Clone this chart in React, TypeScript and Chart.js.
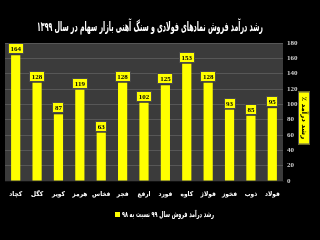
import React, { useEffect, useRef } from 'react';
import { Chart, registerables } from 'chart.js';

Chart.register(...registerables);

const categories = ['کچاد', 'کگل', 'کویر', 'هرمز', 'فخاس', 'فجر', 'ارفع', 'فورد', 'کاوه', 'فولاژ', 'فخوز', 'ذوب', 'فولاد'];
const growthValues = [164, 128, 87, 119, 63, 128, 102, 125, 153, 128, 93, 85, 95];
const yMin = 0;
const yMax = 180;
const yStep = 20;
const chartTitle = 'رشد درآمد فروش نمادهای فولادی و سنگ آهنی بازار سهام در سال ۱۳۹۹';
const legendLabel = 'رشد درآمد فروش سال ۹۹ نسبت به ۹۸';
const axisTitle = 'رشد درآمد ٪';

const AR_FONT = '"DejaVu Sans", "Noto Sans", sans-serif';
const AR_COND = '"DejaVu Sans Condensed", "DejaVu Sans", sans-serif';
const YELLOW = '#ffff00';

const backgroundPlugin = {
  id: 'bgPlot',
  beforeDraw(chart: any) {
    const { ctx, chartArea } = chart;
    ctx.save();
    ctx.fillStyle = '#000000';
    ctx.fillRect(0, 0, chart.width, chart.height);
    ctx.fillStyle = '#3b3b3b';
    ctx.fillRect(chartArea.left, chartArea.top, chartArea.right - chartArea.left, chartArea.bottom - chartArea.top);
    ctx.restore();
  },
};

const titlePlugin = {
  id: 'customTitle',
  afterDraw(chart: any) {
    const { ctx } = chart;
    ctx.save();
    ctx.font = `bold 13px ${AR_FONT}`;
    ctx.fillStyle = '#ffffff';
    ctx.textAlign = 'center';
    ctx.textBaseline = 'middle';
    (ctx as any).direction = 'rtl';
    ctx.fillText(chartTitle, 150, 28, 226);
    ctx.restore();
  },
};

const legendPlugin = {
  id: 'customLegend',
  afterDraw(chart: any) {
    const { ctx } = chart;
    const ds = chart.data.datasets[0];
    const y = 215;
    ctx.save();
    ctx.fillStyle = ds.backgroundColor;
    ctx.fillRect(115, y - 3, 5, 5);
    ctx.font = `bold 8px ${AR_COND}`;
    ctx.fillStyle = '#ffffff';
    ctx.textAlign = 'left';
    ctx.textBaseline = 'middle';
    ctx.fillText(ds.label, 122, y, 92);
    ctx.restore();
  },
};

const axisTitlePlugin = {
  id: 'axisTitleBox',
  afterDraw(chart: any) {
    const { ctx, chartArea } = chart;
    const cx = chart.width - 16;
    const cy = (chartArea.top + chartArea.bottom) / 2 + 6;
    const w = 12;
    const h = 53;
    ctx.save();
    ctx.fillStyle = YELLOW;
    ctx.fillRect(cx - w / 2, cy - h / 2, w, h);
    ctx.strokeStyle = '#555555';
    ctx.lineWidth = 1;
    ctx.strokeRect(cx - w / 2 + 0.5, cy - h / 2 + 0.5, w - 1, h - 1);
    ctx.translate(cx, cy);
    ctx.rotate(Math.PI / 2);
    ctx.font = `bold 7px ${AR_FONT}`;
    ctx.fillStyle = '#000000';
    ctx.textAlign = 'center';
    ctx.textBaseline = 'middle';
    (ctx as any).direction = 'rtl';
    ctx.fillText(axisTitle, 0, 0, h - 6);
    ctx.restore();
  },
};

const valueLabelPlugin = {
  id: 'valueLabels',
  afterDatasetsDraw(chart: any) {
    const { ctx } = chart;
    const meta = chart.getDatasetMeta(0);
    const data = chart.data.datasets[0].data as number[];
    ctx.save();
    ctx.font = 'bold 7px "Liberation Serif", serif';
    ctx.textAlign = 'center';
    ctx.textBaseline = 'middle';
    meta.data.forEach((bar: any, i: number) => {
      const text = String(data[i]);
      const w = Math.ceil(ctx.measureText(text).width) + 3;
      const h = 9;
      const x = Math.round(bar.x - w / 2);
      const y = Math.round(bar.y - h - 2);
      ctx.fillStyle = YELLOW;
      ctx.fillRect(x, y, w, h);
      ctx.strokeStyle = '#4a4a4a';
      ctx.lineWidth = 1;
      ctx.strokeRect(x - 0.5, y - 0.5, w + 1, h + 1);
      ctx.fillStyle = '#000000';
      ctx.fillText(text, bar.x, y + h / 2 + 0.5);
    });
    ctx.restore();
  },
};

export default function App() {
  const canvasRef = useRef<HTMLCanvasElement | null>(null);

  useEffect(() => {
    document.body.style.margin = '0';
    document.body.style.background = '#000000';
    const canvas = canvasRef.current;
    if (!canvas) return;
    const chart = new Chart(canvas, {
      type: 'bar',
      data: {
        labels: categories,
        datasets: [
          {
            label: legendLabel,
            data: growthValues,
            backgroundColor: YELLOW,
            borderWidth: 0,
            barPercentage: 0.43,
            categoryPercentage: 1,
          },
        ],
      },
      options: {
        responsive: false,
        animation: false,
        devicePixelRatio: 1,
        layout: { padding: { top: 43, left: 5, right: 0, bottom: 39 } },
        plugins: {
          legend: { display: false },
          title: { display: false },
          tooltip: { enabled: false },
        },
        scales: {
          x: {
            grid: { display: false, drawTicks: false },
            border: { display: true, color: '#111111', width: 1 },
            ticks: {
              color: '#ffffff',
              padding: 9,
              maxRotation: 0,
              autoSkip: false,
              font: { family: AR_COND, size: 6.5, weight: 'bold' },
            },
            afterFit(scale: any) {
              scale.height = 20;
            },
          },
          y: {
            position: 'right',
            min: yMin,
            max: yMax,
            grid: { color: '#575757', drawTicks: false, lineWidth: 1 },
            border: { display: false },
            ticks: {
              stepSize: yStep,
              color: '#cfcfcf',
              padding: 4,
              font: { family: '"Liberation Serif", serif', size: 7, weight: 'bold' },
            },
            afterFit(scale: any) {
              scale.width = 37;
            },
          },
        },
      },
      plugins: [backgroundPlugin, valueLabelPlugin, axisTitlePlugin, titlePlugin, legendPlugin],
    });
    return () => chart.destroy();
  }, []);

  return (
    <div style={{ width: 320, height: 240, background: '#000' }}>
      <canvas ref={canvasRef} width={320} height={240} style={{ display: 'block' }} />
    </div>
  );
}
